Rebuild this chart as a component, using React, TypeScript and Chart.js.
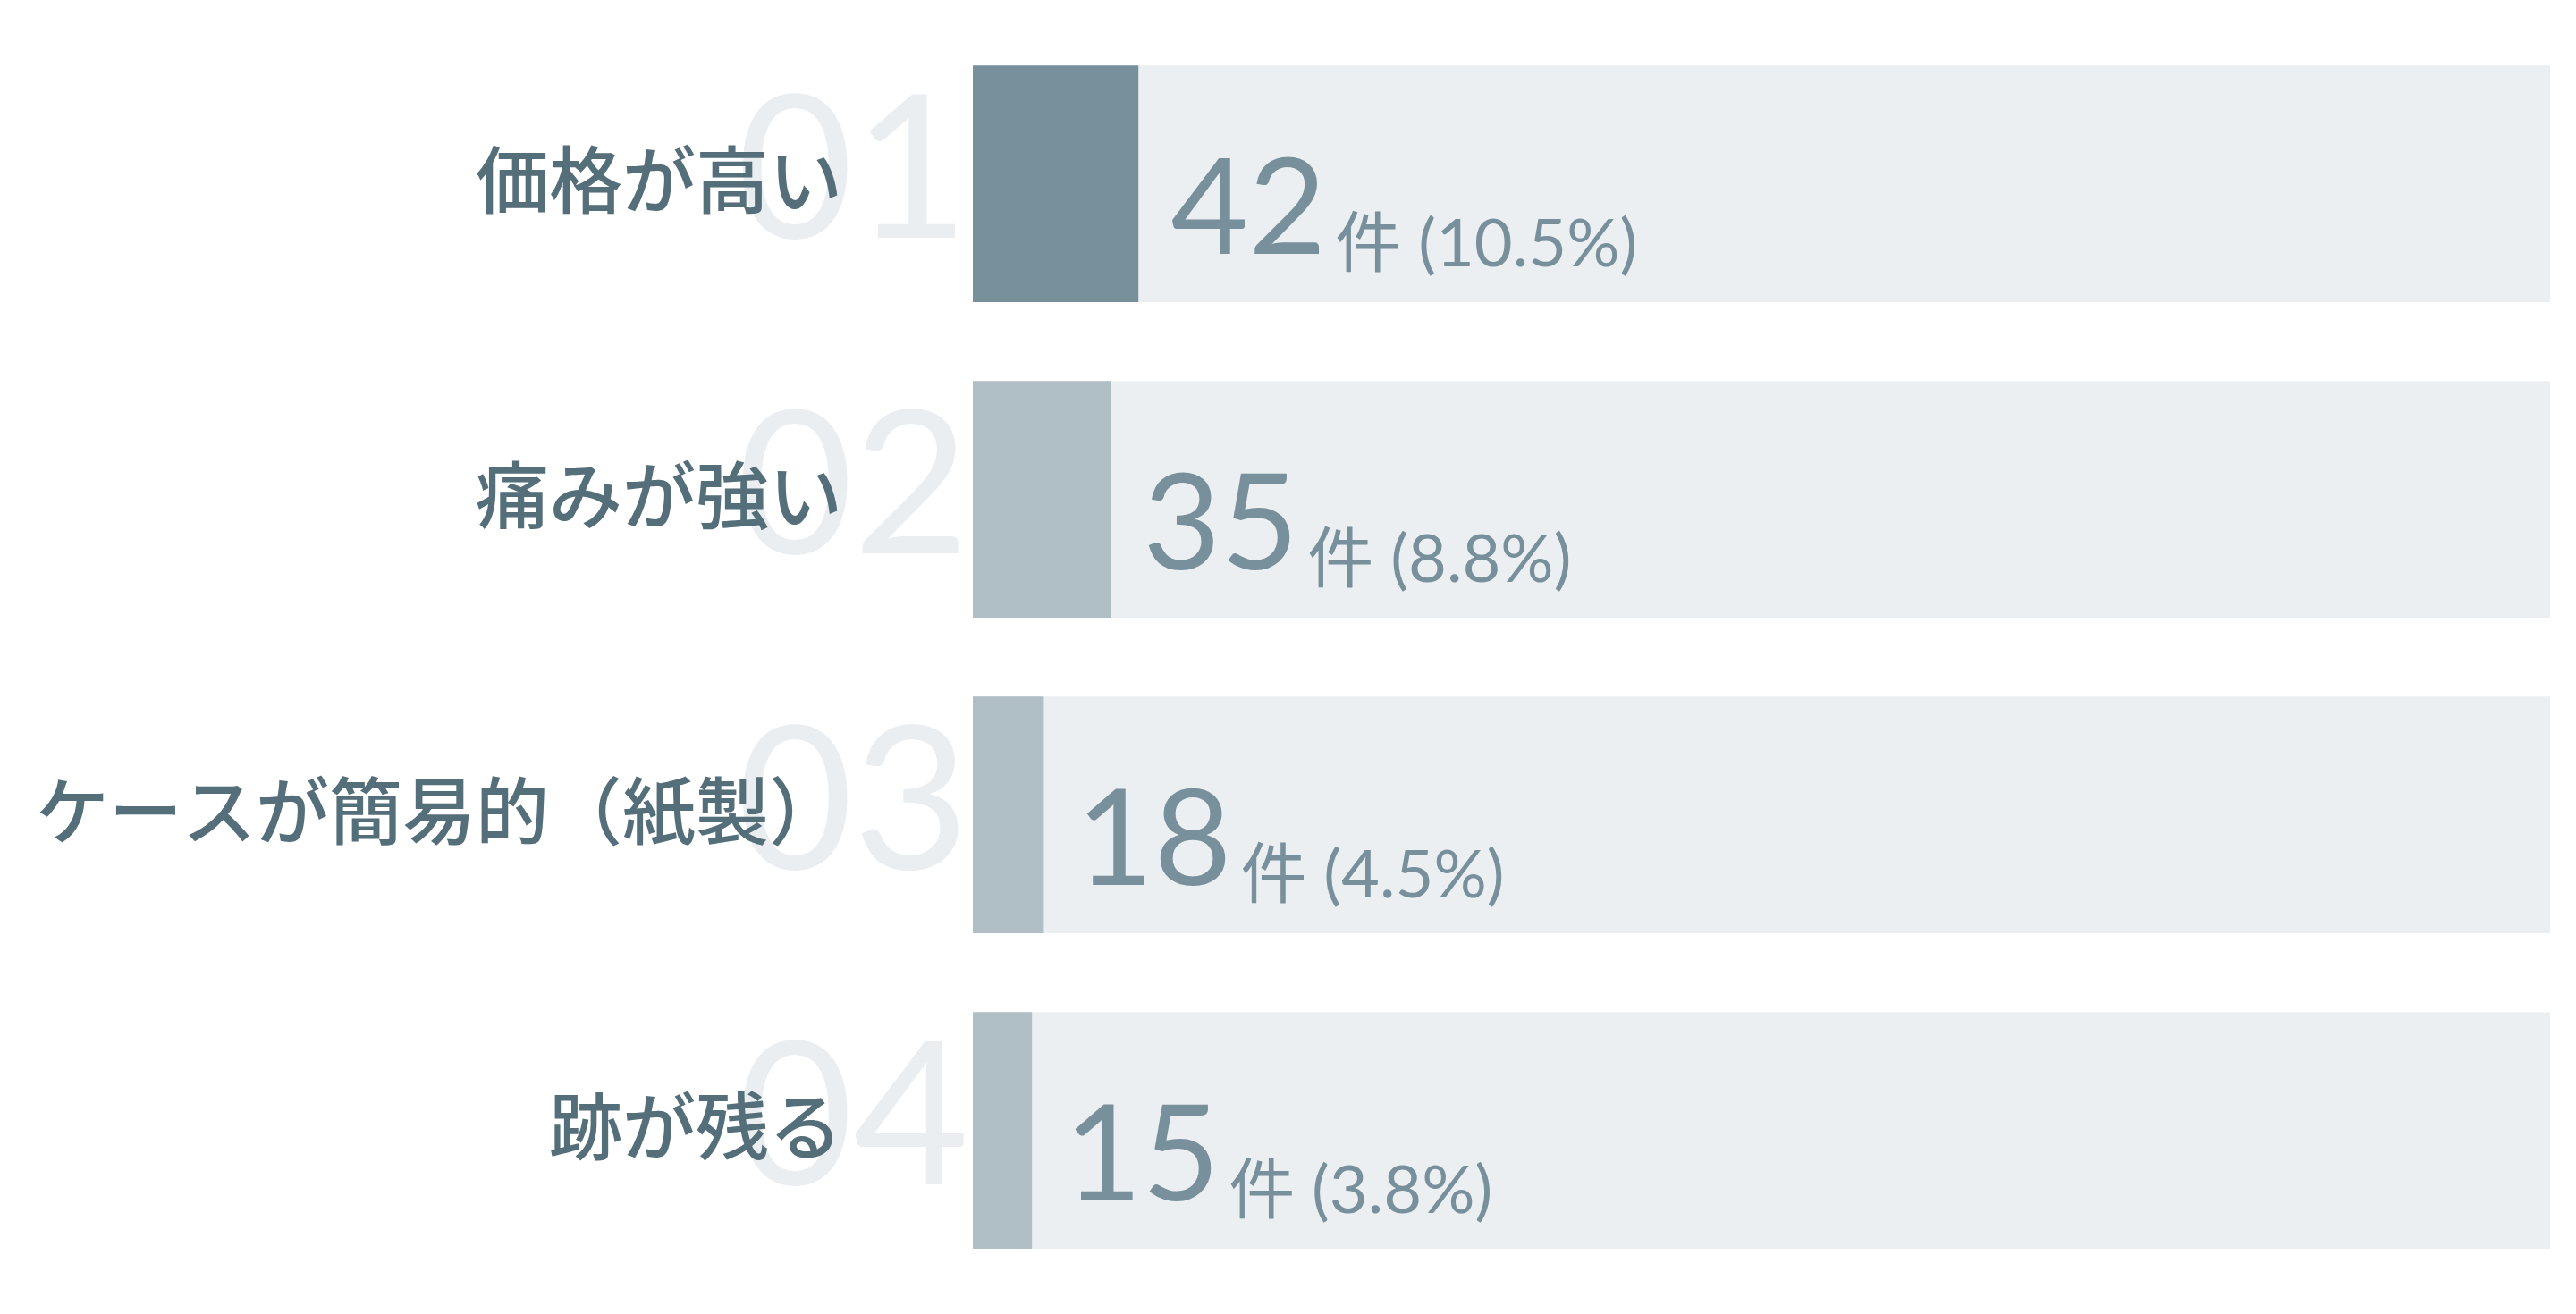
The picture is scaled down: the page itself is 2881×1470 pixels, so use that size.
import { useEffect, useRef } from "react"
import { Chart, registerables } from "chart.js"
import type { Plugin } from "chart.js"

Chart.register(...registerables)

// data
const categories = ["価格が高い", "痛みが強い", "ケースが簡易的（紙製）", "跡が残る"]
const ranks = ["01", "02", "03", "04"]
const counts = [42, 35, 18, 15]
const percents = ["10.5", "8.8", "4.5", "3.8"]
const totals = [400, 400, 400, 400]
const unit = "件"

const barColors = ["#78909c", "#b0bec5", "#b0bec5", "#b0bec5"]
const trackColor = "#eceff1"
const ghostColor = "#eaeef1"
const labelColor = "#546e7a"
const valueColor = "#78909c"

const numFont = 'Lato, "Noto Sans", sans-serif'
const jpFont = '"Noto Sans CJK JP", sans-serif'

const rowText: Plugin<"bar"> = {
  id: "rowText",
  afterDatasetsDraw(chart) {
    const { ctx, chartArea, scales } = chart
    const x = scales.x
    const y = scales.y
    ctx.save()
    categories.forEach((cat, i) => {
      const cy = y.getPixelForValue(i)

      // big faded rank number behind the label
      ctx.font = `400 224px ${numFont}`
      ctx.fillStyle = ghostColor
      ctx.textAlign = "right"
      ctx.textBaseline = "alphabetic"
      ctx.fillText(ranks[i], chartArea.left - 4, cy + 60)

      // category label
      ctx.font = `500 82px ${jpFont}`
      ctx.fillStyle = labelColor
      ctx.textAlign = "right"
      ctx.fillText(cat, 942, cy + 26)

      // value + share
      const vx = x.getPixelForValue(counts[i]) + 36
      ctx.textAlign = "left"
      ctx.fillStyle = valueColor
      ctx.font = `400 150px ${numFont}`
      const num = String(counts[i])
      ctx.fillText(num, vx, cy + 78)
      const w = ctx.measureText(num).width
      ctx.font = `400 74px ${numFont}, ${jpFont}`
      ctx.fillText(`${unit} (${percents[i]}%)`, vx + w + 10, cy + 92)
    })
    ctx.restore()
  },
}

export default function App() {
  const chartRef = useRef<HTMLCanvasElement>(null)
  const chartInstance = useRef<Chart | null>(null)

  useEffect(() => {
    if (!chartRef.current) return
    if (chartInstance.current) chartInstance.current.destroy()

    const ctx = chartRef.current.getContext("2d")
    if (!ctx) return

    chartInstance.current = new Chart(ctx, {
      type: "bar",
      data: {
        labels: categories,
        datasets: [
          {
            data: counts,
            backgroundColor: barColors,
            borderWidth: 0,
            grouped: false,
            order: 1,
            categoryPercentage: 1,
            barPercentage: 0.75,
          },
          {
            data: totals,
            backgroundColor: trackColor,
            borderWidth: 0,
            grouped: false,
            order: 2,
            categoryPercentage: 1,
            barPercentage: 0.75,
          },
        ],
      },
      options: {
        indexAxis: "y",
        animation: false,
        responsive: true,
        maintainAspectRatio: false,
        layout: {
          padding: { left: 1088, right: 29, top: 29, bottom: 29 },
        },
        scales: {
          x: { display: false, min: 0, max: 400 },
          y: { display: false },
        },
        plugins: {
          legend: { display: false },
          tooltip: { enabled: false },
        },
      },
      plugins: [rowText],
    })

    return () => {
      if (chartInstance.current) {
        chartInstance.current.destroy()
        chartInstance.current = null
      }
    }
  }, [])

  return (
    <div style={{ position: "fixed", left: 0, top: 0, width: 2881, height: 1470, background: "#fff" }}>
      <canvas ref={chartRef} />
    </div>
  )
}
